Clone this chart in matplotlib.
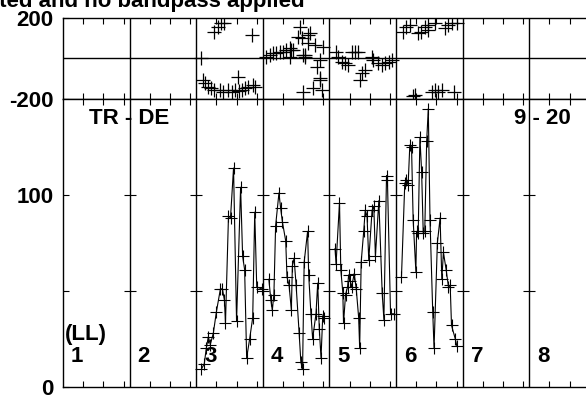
import matplotlib
matplotlib.use("Agg")
import matplotlib.pyplot as plt
import numpy as np

plt.rcParams['font.family'] = ['Liberation Sans', 'DejaVu Sans']

# panel layout: 8 IF panels, each spans channels 0..66
n_panels = 8
pw = 66
panel_labels = ['1', '2', '3', '4', '5', '6', '7', '8']

# amplitude per channel (panels 3-6 have data)
p3_chan = [5, 8, 10, 12, 14, 17, 20, 24, 26, 28, 29, 32, 34, 37, 40, 44, 46, 48, 50, 53, 56, 58, 60, 65]
p3_amp = [9, 12, 20, 26, 22, 28, 39, 51, 51, 45, 33, 89, 88, 114, 34, 104, 68, 61, 15, 25, 36, 91, 52, 51]
p4_chan = [6, 8, 9.4, 11, 12.7, 16, 17.7, 19.4, 22.7, 24, 26, 28.3, 29.3, 31, 33, 36, 37.7, 39.4, 41, 44.4, 45.5, 47.7, 49.4, 52.7, 54.4, 56, 57.7, 59.4, 61]
p4_amp = [56, 45, 40, 48, 84, 101, 93, 86, 76, 57, 53, 40, 63, 67, 53, 28, 13, 9, 65, 81, 58, 38, 25, 38, 54, 30, 15, 37, 36]
p5_chan = [5.6, 6.6, 10, 11.3, 13.3, 14, 16, 18, 19, 20.6, 22, 24.6, 26.6, 29, 30, 31.5, 34, 35.5, 37.3, 39, 42.3, 44, 45.6, 49, 52.3, 54, 56.6, 57.5, 60.6, 64]
p5_amp = [72, 64, 96, 61, 49, 33, 48, 52, 58, 55, 52, 59, 51, 36, 20, 65, 81, 92, 89, 66, 92, 94, 68, 97, 49, 35, 110, 108, 38, 38]
p6_chan = [5.4, 8.7, 10.4, 12, 13.7, 15.4, 17, 19.7, 20.4, 22, 23.7, 25.4, 27, 28.5, 30.4, 32, 33.7, 36.4, 37.7, 41, 43.7, 45.4, 47, 49.7, 52, 53.7, 55, 58.7, 60.4]
p6_amp = [57, 106, 108, 105, 126, 125, 87, 60, 81, 80, 130, 112, 80, 81, 128, 145, 87, 39, 20, 75, 88, 56, 70, 61, 52, 53, 32, 25, 21]

# phase per channel
q3_chan = [18, 21.6, 25, 28, 55, 5, 6.6, 8.3, 11.6, 15, 18, 23.3, 26.6, 31.6, 35, 38.3, 41.6, 42, 45, 48.3, 51.6, 56.6, 58]
q3_ph = [131, 155, 172, 175, 114, 0, -107, -123, -139, -147, -156, -156, -164, -156, -164, -156, -90, -160, -156, -147, -139, -131, -139]
q4_chan = [3.4, 6.7, 10, 13.3, 16.7, 20, 23.4, 27, 28.4, 30, 35, 37, 38.4, 40, 45, 47, 41.7, 26.7, 60, 51.7, 53.4, 56.7, 50, 57, 58.4, 40, 45, 42, 57]
q4_ph = [8, 16, 25, 25, 32, 32, 41, 49, 40, 41, 106, 155, 98, 16, 74, 123, 16, 8, 57, 66, -41, -98, -147, -107, -156, -164, 114, 5, -8]
q5_chan = [7, 8.6, 12, 15.3, 18.6, 22, 25.3, 28.6, 35.3, 32, 30.3, 42, 43.6, 48.6, 52, 55.3, 58.6, 62]
q5_ph = [32, 8, -16, -25, -33, 32, 32, 32, -57, -74, -107, 8, -8, -25, -33, -25, -16, -8]
q6_chan = [7, 10.4, 13.7, 22, 25, 28.7, 32, 38.7, 48.7, 52, 55.4, 60.4, 18.7, 35.4, 38.7, 42, 45.4, 57, 16.5, 31.5]
q6_ph = [131, 155, 164, 123, 131, 155, 164, 172, 147, 164, 172, 172, -180, -164, -156, -164, -156, -164, -187, 140]

amp_sets = {3: (p3_chan, p3_amp), 4: (p4_chan, p4_amp), 5: (p5_chan, p5_amp), 6: (p6_chan, p6_amp)}
ph_sets = {3: (q3_chan, q3_ph), 4: (q4_chan, q4_ph), 5: (q5_chan, q5_ph), 6: (q6_chan, q6_ph)}

W, H = 586, 395
fig = plt.figure(figsize=(W / 100, H / 100), dpi=100)

x0, x1 = 63, 63 + 8 * 66.6
ax_ph = fig.add_axes([x0 / W, 1 - 99 / H, (x1 - x0) / W, 81.5 / H])
ax_amp = fig.add_axes([x0 / W, 1 - 386.7 / H, (x1 - x0) / W, (386.7 - 99) / H])

font = dict(fontsize=16, fontweight='bold')
xt = [k * pw + c for k in range(n_panels) for c in (20, 40, 60)]
seps = [k * pw for k in range(1, n_panels)]

for ax in (ax_ph, ax_amp):
    ax.set_xlim(0, n_panels * pw)
    ax.set_xticks(xt)
    ax.set_xticklabels([])
    ax.tick_params(axis='x', direction='in', top=True, bottom=True, length=4, width=0.8)
    ax.tick_params(axis='y', direction='in', length=4, width=0.8, pad=7, labelsize=16)
    for s in ax.spines.values():
        s.set_linewidth(1.0)
    for sx in seps:
        ax.axvline(sx, color='black', lw=1.0)

# phase panel
ax_ph.set_ylim(-200, 200)
ax_ph.set_yticks([-200, 200])
ax_ph.set_yticklabels(['-200', '200'], fontweight='bold')
ax_ph.axhline(0, color='black', lw=1.0)
for p, (ch, ph) in ph_sets.items():
    xs = (p - 1) * pw + np.array(ch)
    ax_ph.plot(xs, ph, '+', color='black', ms=10, mew=0.9)

# amplitude panel
ax_amp.set_ylim(0, 150)
ax_amp.set_yticks([0, 50, 100])
ax_amp.set_yticklabels(['0', '', '100'], fontweight='bold')
ax_amp.plot(np.repeat(seps, 2), [50, 100] * len(seps), '_', color='black', ms=8, mew=0.8)
for p, (ch, am) in amp_sets.items():
    xs = (p - 1) * pw + np.array(ch)
    ax_amp.plot(xs, am, '-', color='black', lw=0.8)
    ax_amp.plot(xs, am, '+', color='black', ms=9, mew=0.8)

for k, lab in enumerate(panel_labels):
    ax_amp.text(k * pw + 8, 15.5, lab, ha='left', va='center', **font)
ax_amp.text(2, 27, '(LL)', ha='left', va='center', **font)
ax_amp.text(pw, 140, 'TR - DE', ha='center', va='center', **font)
ax_amp.text(475.5, 140, '9 - 20', ha='center', va='center', **font)

fig.text(305 / W, 1 - 7.5 / H, 'Calibrated and no bandpass applied', ha='right', va='baseline', **font)

fig.savefig('out.png', dpi=100)
